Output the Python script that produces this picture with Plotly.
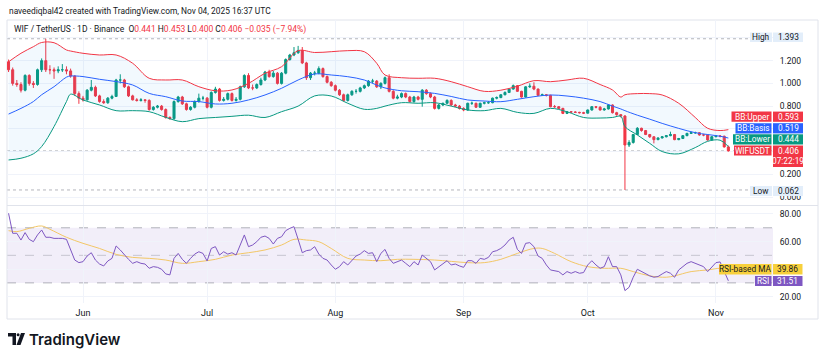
import pandas as pd
import plotly.graph_objects as go

W, H = 825, 361

# ---------------- data ----------------
DATES = pd.date_range("2025-05-14", "2025-11-04", freq="D")

OPEN = [1.19, 1.12, 1.00, 0.99, 0.94, 1.07, 1.00, 0.99, 1.12, 1.20, 1.12, 1.12, 1.11, 1.12, 1.12, 1.11, 1.065, 0.91,
        0.87, 0.855, 0.94, 0.965, 0.89, 0.84, 0.83, 0.87, 0.885, 1.03,
        1.03, 0.97, 0.89, 0.855, 0.85, 0.855, 0.85, 0.77, 0.79, 0.80,
        0.77, 0.70, 0.69, 0.84, 0.88, 0.82, 0.77, 0.79, 0.84, 0.87,
        0.87, 0.79, 0.92, 0.95, 0.85, 0.86, 0.91, 0.85, 0.86, 0.97,
        1.07, 0.96, 0.96, 0.99, 1.03, 1.10, 1.06, 1.09, 1.00, 1.09,
        1.21, 1.25, 1.27, 1.29, 1.18, 1.05, 1.09, 1.09, 1.13, 1.06,
        1.01, 0.98, 0.94, 0.90, 0.85, 0.90, 0.93, 0.93, 0.96, 0.98,
        1.02, 1.02, 0.97, 1.00, 1.05, 0.93, 0.87, 0.88, 0.91, 0.88,
        0.84, 0.88, 0.86, 0.94, 0.91, 0.88, 0.78, 0.81, 0.825, 0.85,
        0.81, 0.80, 0.78, 0.766, 0.825, 0.825, 0.79, 0.825, 0.83, 0.83,
        0.87, 0.875, 0.90, 0.92, 0.95, 0.98, 0.93, 0.88, 0.97, 0.975,
        0.95, 0.895, 0.90, 0.895, 0.795, 0.795, 0.78, 0.736, 0.75, 0.748,
        0.745, 0.742, 0.738, 0.766, 0.795, 0.79, 0.766, 0.775, 0.81, 0.742,
        0.725, 0.713, 0.458, 0.48, 0.55, 0.605, 0.585, 0.55, 0.53, 0.505,
        0.52, 0.53, 0.54, 0.55, 0.505, 0.515, 0.54, 0.56, 0.566, 0.566,
        0.546, 0.546, 0.502, 0.531, 0.537, 0.535, 0.441]

HIGH = [1.21, 1.14, 1.03, 1.01, 1.08, 1.08, 1.02, 1.13, 1.22, 1.393, 1.16, 1.14, 1.15, 1.17, 1.15, 1.13, 1.07, 0.93,
        0.89, 0.95, 1.03, 0.98, 0.90, 0.86, 0.88, 0.90, 1.04, 1.08,
        1.04, 0.98, 0.90, 0.87, 0.87, 0.86, 0.86, 0.80, 0.81, 0.81,
        0.78, 0.71, 0.85, 0.89, 0.89, 0.83, 0.80, 0.85, 0.91, 0.89,
        0.88, 0.93, 0.97, 0.96, 0.88, 0.92, 0.92, 0.88, 0.98, 1.08,
        1.09, 0.99, 1.00, 1.05, 1.11, 1.12, 1.11, 1.10, 1.10, 1.22,
        1.26, 1.32, 1.33, 1.32, 1.19, 1.10, 1.11, 1.15, 1.14, 1.07,
        1.02, 0.99, 0.95, 0.91, 0.91, 0.94, 0.95, 0.97, 0.99, 1.03,
        1.04, 1.03, 1.01, 1.06, 1.08, 0.94, 0.90, 0.92, 0.92, 0.89,
        0.89, 0.89, 0.95, 0.95, 0.92, 0.89, 0.82, 0.83, 0.86, 0.86,
        0.82, 0.81, 0.79, 0.83, 0.84, 0.83, 0.83, 0.84, 0.845, 0.875,
        0.885, 0.905, 0.93, 0.955, 0.99, 0.985, 0.935, 0.975, 1.00, 1.01,
        0.955, 0.91, 0.905, 0.90, 0.81, 0.80, 0.785, 0.755, 0.755, 0.755,
        0.75, 0.75, 0.77, 0.80, 0.80, 0.80, 0.785, 0.815, 0.815, 0.75,
        0.73, 0.72, 0.50, 0.555, 0.615, 0.61, 0.59, 0.555, 0.535, 0.525,
        0.535, 0.545, 0.575, 0.555, 0.52, 0.545, 0.565, 0.575, 0.575, 0.57,
        0.555, 0.55, 0.535, 0.545, 0.545, 0.54, 0.453]

LOW = [1.10, 0.98, 0.97, 0.92, 0.93, 0.98, 0.96, 0.98, 1.10, 1.10, 1.08, 1.04, 1.09, 1.10, 1.08, 1.05, 0.89, 0.82,
       0.84, 0.85, 0.93, 0.88, 0.83, 0.82, 0.82, 0.86, 0.88, 1.00,
       0.96, 0.88, 0.85, 0.84, 0.84, 0.83, 0.76, 0.76, 0.78, 0.76,
       0.69, 0.68, 0.68, 0.83, 0.81, 0.76, 0.76, 0.78, 0.83, 0.85,
       0.78, 0.78, 0.91, 0.84, 0.84, 0.85, 0.84, 0.84, 0.85, 0.96,
       0.95, 0.94, 0.95, 0.98, 1.02, 1.05, 1.05, 0.99, 0.99, 1.08,
       1.20, 1.24, 1.26, 1.17, 1.03, 1.03, 1.07, 1.08, 1.05, 1.00,
       0.97, 0.93, 0.89, 0.84, 0.84, 0.89, 0.91, 0.92, 0.95, 0.97,
       1.00, 0.96, 0.95, 0.99, 0.92, 0.86, 0.86, 0.87, 0.87, 0.83,
       0.83, 0.85, 0.795, 0.90, 0.87, 0.77, 0.77, 0.80, 0.82, 0.80,
       0.79, 0.77, 0.755, 0.76, 0.81, 0.785, 0.785, 0.815, 0.82, 0.825,
       0.86, 0.87, 0.895, 0.915, 0.945, 0.925, 0.875, 0.875, 0.96, 0.94,
       0.89, 0.89, 0.885, 0.79, 0.785, 0.775, 0.73, 0.73, 0.74, 0.74,
       0.735, 0.73, 0.735, 0.76, 0.78, 0.76, 0.76, 0.77, 0.735, 0.715,
       0.70, 0.062, 0.44, 0.47, 0.545, 0.575, 0.545, 0.52, 0.472, 0.50,
       0.515, 0.525, 0.535, 0.50, 0.50, 0.51, 0.535, 0.555, 0.555, 0.54,
       0.535, 0.495, 0.50, 0.525, 0.525, 0.435, 0.400]

CLOSE = [1.12, 1.00, 0.99, 0.94, 1.07, 1.00, 0.99, 1.12, 1.20, 1.12, 1.12, 1.11, 1.12, 1.12, 1.11, 1.065, 0.91, 0.87,
         0.855, 0.94, 0.965, 0.89, 0.84, 0.83, 0.87, 0.885, 1.03, 1.03,
         0.97, 0.89, 0.855, 0.85, 0.855, 0.85, 0.77, 0.79, 0.80, 0.77,
         0.70, 0.69, 0.84, 0.88, 0.82, 0.77, 0.79, 0.84, 0.87, 0.87,
         0.79, 0.92, 0.95, 0.85, 0.86, 0.91, 0.85, 0.86, 0.97, 1.07,
         0.96, 0.96, 0.99, 1.03, 1.10, 1.06, 1.09, 1.00, 1.09, 1.21,
         1.25, 1.27, 1.29, 1.18, 1.05, 1.09, 1.09, 1.13, 1.06, 1.01,
         0.98, 0.94, 0.90, 0.85, 0.90, 0.93, 0.93, 0.96, 0.98, 1.02,
         1.02, 0.97, 1.00, 1.05, 0.93, 0.87, 0.88, 0.91, 0.88, 0.84,
         0.88, 0.86, 0.94, 0.91, 0.88, 0.78, 0.81, 0.825, 0.85, 0.81,
         0.80, 0.78, 0.766, 0.825, 0.825, 0.79, 0.825, 0.83, 0.83, 0.87,
         0.875, 0.90, 0.92, 0.95, 0.98, 0.93, 0.88, 0.97, 0.975, 0.95,
         0.895, 0.90, 0.895, 0.795, 0.795, 0.78, 0.736, 0.75, 0.748, 0.745,
         0.742, 0.738, 0.766, 0.795, 0.79, 0.766, 0.775, 0.81, 0.742, 0.725,
         0.713, 0.458, 0.48, 0.55, 0.605, 0.585, 0.55, 0.53, 0.505, 0.52,
         0.53, 0.54, 0.55, 0.505, 0.515, 0.54, 0.56, 0.566, 0.566, 0.546,
         0.546, 0.502, 0.531, 0.537, 0.535, 0.441, 0.406]

RSI = [80.5, 66.0, 66.0, 61.1, 66.5, 61.6, 59.9, 64.8, 68.4, 63.1, 63.1, 62.3, 62.3, 62.3, 61.6, 53.9, 46.6, 44.7,
       45.4, 49.5, 51.9, 46.6, 43.7, 42.3, 45.9, 47.8, 56.8, 53.9,
       50.2, 47.1, 44.2, 45.4, 44.2, 43.7, 40.6, 41.8, 41.3, 39.9,
       36.5, 35.8, 47.8, 51.4, 47.1, 44.2, 47.8, 50.9, 52.6, 51.4,
       45.9, 55.0, 56.3, 50.2, 52.6, 50.9, 51.9, 50.2, 57.5, 64.8,
       56.3, 57.5, 59.9, 63.1, 64.0, 62.3, 58.2, 62.3, 63.5, 67.9,
       69.6, 70.8, 61.6, 51.9, 53.4, 53.9, 56.3, 50.9, 47.8, 46.6,
       43.0, 39.9, 41.8, 45.4, 43.0, 46.6, 49.5, 50.9, 53.4, 51.4,
       51.9, 45.4, 51.4, 54.3, 47.8, 44.2, 45.4, 46.6, 44.2, 41.8,
       45.4, 43.0, 50.2, 47.8, 45.4, 39.4, 41.8, 43.7, 46.1, 43.0,
       43.7, 42.3, 41.3, 46.1, 46.1, 44.2, 47.8, 47.1, 48.5, 52.6,
       53.4, 55.0, 57.5, 61.1, 63.1, 54.3, 51.4, 58.7, 59.2, 56.3,
       49.5, 47.8, 43.0, 39.4, 38.9, 38.2, 35.8, 38.2, 37.0, 38.2,
       37.0, 37.5, 43.0, 46.1, 43.0, 40.6, 41.8, 49.0, 41.8, 41.8,
       35.8, 24.4, 26.8, 34.1, 39.9, 38.2, 37.0, 35.1, 34.1, 34.6,
       36.5, 38.2, 37.0, 34.1, 39.4, 41.8, 44.2, 45.4, 44.2, 43.0,
       41.8, 38.2, 41.8, 44.7, 45.2, 38.0, 31.51]

BB_DATES = ["2025-05-14", "2025-05-17", "2025-05-20", "2025-05-22", "2025-05-25", "2025-05-28", "2025-05-29",
            "2025-06-01", "2025-06-05", "2025-06-09", "2025-06-13", "2025-06-17", "2025-06-21", "2025-06-25",
            "2025-06-29", "2025-07-03", "2025-07-07", "2025-07-11", "2025-07-15", "2025-07-19", "2025-07-23",
            "2025-07-27", "2025-07-31", "2025-08-04", "2025-08-08", "2025-08-11", "2025-08-13", "2025-08-17",
            "2025-08-21", "2025-08-25", "2025-08-29", "2025-09-02", "2025-09-06", "2025-09-10", "2025-09-14",
            "2025-09-18", "2025-09-22", "2025-09-26", "2025-09-30", "2025-10-04", "2025-10-07", "2025-10-09",
            "2025-10-10", "2025-10-13", "2025-10-16", "2025-10-19", "2025-10-23", "2025-10-27", "2025-10-30",
            "2025-11-02", "2025-11-04"]
BB_UPPER = [1.19, 1.265, 1.323, 1.36, 1.358, 1.294, 1.285, 1.265, 1.25, 1.25, 1.177, 1.045, 1.03, 1.03, 0.971,
            0.935, 0.942, 1.0, 1.089, 1.147, 1.288, 1.272, 1.279, 1.288, 1.279, 1.177, 1.074, 1.05, 1.045, 1.045,
            1.015, 0.971, 0.93, 0.94, 0.975, 1.024, 1.015, 1.03, 1.045, 0.99, 0.942, 0.88, 0.90, 0.91, 0.91,
            0.898, 0.825, 0.70, 0.605, 0.585, 0.593]
BB_BASIS = [0.73, 0.78, 0.84, 0.90, 0.971, 1.055, 1.065, 1.06, 1.036, 1.016, 0.986, 0.912, 0.883, 0.845, 0.84,
            0.819, 0.825, 0.854, 0.898, 0.957, 1.03, 1.083, 1.074, 1.059, 1.03, 0.985, 0.96, 0.935, 0.927, 0.912,
            0.885, 0.854, 0.845, 0.839, 0.86, 0.883, 0.898, 0.889, 0.87, 0.84, 0.80, 0.775, 0.76, 0.72, 0.685,
            0.648, 0.604, 0.566, 0.55, 0.535, 0.519]
BB_LOWER = [0.326, 0.341, 0.38, 0.444, 0.62, 0.84, 0.905, 0.854, 0.81, 0.76, 0.76, 0.751, 0.701, 0.663, 0.69,
            0.70, 0.71, 0.72, 0.70, 0.751, 0.80, 0.89, 0.889, 0.825, 0.772, 0.78, 0.80, 0.83, 0.825, 0.83,
            0.80, 0.766, 0.76, 0.78, 0.745, 0.736, 0.78, 0.75, 0.70, 0.695, 0.70, 0.71, 0.62, 0.546, 0.472,
            0.40, 0.38, 0.435, 0.49, 0.50, 0.444]

MA_DATES = ["2025-05-14", "2025-05-16", "2025-05-19", "2025-05-22", "2025-05-24", "2025-05-28", "2025-06-01",
            "2025-06-05", "2025-06-09", "2025-06-13", "2025-06-17", "2025-06-21", "2025-06-25", "2025-06-29",
            "2025-07-03", "2025-07-07", "2025-07-11", "2025-07-15", "2025-07-19", "2025-07-22", "2025-07-25",
            "2025-07-28", "2025-07-31", "2025-08-04", "2025-08-08", "2025-08-12", "2025-08-16", "2025-08-20",
            "2025-08-25", "2025-09-02", "2025-09-06", "2025-09-10", "2025-09-14", "2025-09-18", "2025-09-20",
            "2025-09-23", "2025-09-27", "2025-10-01", "2025-10-05", "2025-10-09", "2025-10-12", "2025-10-16",
            "2025-10-20", "2025-10-22", "2025-10-26", "2025-10-30", "2025-11-02", "2025-11-04"]
RSI_MA = [67.9, 67.2, 69.6, 71.3, 68.9, 63.1, 58.7, 55.0, 50.7, 48.5, 47.8, 46.6, 44.2, 45.4, 47.1, 50.2,
          51.9, 53.9, 57.5, 61.6, 61.1, 59.9, 55.0, 47.8, 46.6, 46.1, 47.1, 47.1, 46.6, 44.7, 44.7, 47.1,
          51.4, 55.0, 55.0, 51.4, 45.4, 41.8, 40.6, 40.6, 38.2, 35.1, 34.1, 35.1, 38.2, 39.4, 40.6, 39.86]

VISIBLE_HIGH = 1.393
VISIBLE_LOW = 0.062
MONTHS = ["2025-06-01", "2025-07-01", "2025-08-01", "2025-09-01", "2025-10-01", "2025-11-01"]
PRICE_TICKS = [0.0, 0.2, 0.4, 0.6, 0.8, 1.0, 1.2, 1.4]
PRICE_TICK_TEXT = ["0.000", "0.200", "", "", "0.800", "1.000", "1.200", ""]
RSI_TICKS = [20, 40, 60, 80]
RSI_TICK_TEXT = ["20.00", "", "60.00", "80.00"]
COUNTDOWN = "07:22:19"

# ---------------- styling ----------------
UP, DOWN = "#089981", "#F23645"
BLUE = "#2962FF"
PURPLE = "#7E57C2"
YELLOW = "#F7D03C"
MA_LINE = "#F3C766"
TXT = "#131722"
GRID = "#F0F3FA"
FONT = "Roboto, Arial, sans-serif"


def px(x):
    return x / W


def py(y):
    return 1 - y / H


PLOT_L, PLOT_R = 7, 773
X_RANGE = ["2025-05-13 15:00", "2025-11-14 19:00"]

fig = go.Figure()

# Bollinger band fill + lines
fig.add_trace(go.Scatter(x=BB_DATES, y=BB_LOWER, mode="lines", line=dict(color=UP, width=1, shape="spline"),
                         xaxis="x", yaxis="y", hoverinfo="skip"))
fig.add_trace(go.Scatter(x=BB_DATES, y=BB_UPPER, mode="lines", line=dict(color=DOWN, width=1, shape="spline"),
                         fill="tonexty", fillcolor="rgba(33,150,243,0.06)", xaxis="x", yaxis="y", hoverinfo="skip"))
fig.add_trace(go.Scatter(x=BB_DATES, y=BB_BASIS, mode="lines", line=dict(color=BLUE, width=1, shape="spline"),
                         xaxis="x", yaxis="y", hoverinfo="skip"))

fig.add_trace(go.Candlestick(
    x=DATES, open=OPEN, high=HIGH, low=LOW, close=CLOSE,
    increasing=dict(line=dict(color=UP, width=1), fillcolor=UP),
    decreasing=dict(line=dict(color=DOWN, width=1), fillcolor=DOWN),
    whiskerwidth=0, xaxis="x", yaxis="y"))

# RSI pane
fig.add_trace(go.Scatter(x=MA_DATES, y=RSI_MA, mode="lines", line=dict(color=MA_LINE, width=1, shape="spline"),
                         xaxis="x2", yaxis="y2", hoverinfo="skip"))
fig.add_trace(go.Scatter(x=DATES, y=RSI, mode="lines", line=dict(color=PURPLE, width=1),
                         xaxis="x2", yaxis="y2", hoverinfo="skip"))

shapes = []
# RSI band and levels
shapes.append(dict(type="rect", xref="x2 domain", yref="y2", x0=0, x1=1, y0=30, y1=70,
                   fillcolor="rgba(126,87,194,0.10)", line=dict(width=0), layer="below"))
for lvl, op in [(70, 0.55), (50, 0.35), (30, 0.55)]:
    shapes.append(dict(type="line", xref="x2 domain", yref="y2", x0=0, x1=1, y0=lvl, y1=lvl,
                       line=dict(color="#787B86", width=1, dash="dash"), opacity=op, layer="below"))
# high / low / last price lines
for lvl in (VISIBLE_HIGH, VISIBLE_LOW):
    shapes.append(dict(type="line", xref="x domain", yref="y", x0=0, x1=1, y0=lvl, y1=lvl,
                       line=dict(color="#9598A1", width=1, dash="dot"), opacity=0.7, layer="below"))
shapes.append(dict(type="line", xref="x domain", yref="y", x0=0, x1=1, y0=CLOSE[-1], y1=CLOSE[-1],
                   line=dict(color="#9598A1", width=1, dash="dot"), opacity=0.7, layer="below"))
# frame and pane separator
shapes.append(dict(type="rect", xref="paper", yref="paper", x0=px(7), x1=px(818), y0=py(319), y1=py(20),
                   line=dict(color="#E0E3EB", width=1), layer="below"))
shapes.append(dict(type="line", xref="paper", yref="paper", x0=px(7), x1=px(818), y0=py(205.5), y1=py(205.5),
                   line=dict(color="#E0E3EB", width=1), layer="below"))

annotations = []


def box(x0, x1, y0, y1, color):
    shapes.append(dict(type="rect", xref="paper", yref="paper", x0=px(x0), x1=px(x1), y0=py(y1), y1=py(y0),
                       fillcolor=color, line=dict(width=0), layer="above"))


def text(x, y, s, color=TXT, size=8.5, anchor="center"):
    annotations.append(dict(xref="paper", yref="paper", x=px(x), y=py(y), text=s, showarrow=False,
                            xanchor=anchor, yanchor="middle", font=dict(family=FONT, size=size, color=color)))


LS = 8.3
LIGHT = "#E3EEFA"
# High
box(750, 772, 32.5, 42, LIGHT); box(773, 803, 32.5, 42, LIGHT)
text(761, 37.3, "High", size=LS); text(788, 37.3, f"{VISIBLE_HIGH:.3f}", size=LS)
# Low
box(750, 772, 186, 196, LIGHT); box(773, 803, 186, 196, LIGHT)
text(761, 191, "Low", size=LS); text(788, 191, f"{VISIBLE_LOW:.3f}", size=LS)
# BB labels
for (lbl, val, col, x0, yc) in [("BB:Upper", BB_UPPER[-1], DOWN, 731.5, 116.7),
                                 ("BB:Basis", BB_BASIS[-1], BLUE, 735.5, 128.3),
                                 ("BB:Lower", BB_LOWER[-1], UP, 733, 139.4)]:
    box(x0, 771.5, yc - 5.1, yc + 5.1, col)
    box(773, 803, yc - 5.1, yc + 5.1, col)
    text((x0 + 771.5) / 2, yc, lbl, "white", LS)
    text(788, yc, f"{val:.3f}", "white", LS)
box(734, 771.5, 145.5, 155.5, DOWN)
box(773, 803, 145.5, 167, DOWN)
text(752.7, 150.5, "WIFUSDT", "white", LS)
text(788, 150.7, f"{CLOSE[-1]:.3f}", "white", LS)
text(788, 161.4, COUNTDOWN, "white", LS)
# RSI labels
box(719, 771.5, 264, 274.5, YELLOW); box(773, 802.5, 264, 274.5, YELLOW)
text(745.2, 269.3, "RSI-based MA", size=LS); text(787.7, 269.3, f"{RSI_MA[-1]:.2f}", size=LS)
box(755, 771.5, 276, 286, PURPLE); box(773, 802.5, 276, 286, PURPLE)
text(763.2, 281, "RSI", "white", LS); text(787.7, 281, f"{RSI[-1]:.2f}", "white", LS)

# header texts
text(7, 11, "naveediqbal42 created with TradingView.com, Nov 04, 2025 16:37 UTC", TXT, 8.4, "left")
chg = CLOSE[-1] - OPEN[-1]
pct = chg / OPEN[-1] * 100
red = lambda s: f"<span style='color:{DOWN}'>{s}</span>"
legend = ("WIF / TetherUS · 1D · Binance  "
          f"O{red(f'{OPEN[-1]:.3f}')} H{red(f'{HIGH[-1]:.3f}')} L{red(f'{LOW[-1]:.3f}')} "
          f"C{red(f'{CLOSE[-1]:.3f}')} {red(f'−{abs(chg):.3f} (−{abs(pct):.2f}%)')}")
text(12, 29, legend, TXT, 8.5, "left")

# TradingView logo
shapes.append(dict(type="path", xref="paper", yref="paper",
                   path=f"M {px(8)} {py(333)} L {px(16)} {py(333)} L {px(16)} {py(345)} L {px(12.5)} {py(345)} "
                        f"L {px(12.5)} {py(336.5)} L {px(8)} {py(336.5)} Z",
                   fillcolor=TXT, line=dict(width=0), layer="above"))
shapes.append(dict(type="circle", xref="paper", yref="paper", x0=px(16.6), x1=px(19.6), y0=py(336.3), y1=py(333.3),
                   fillcolor=TXT, line=dict(width=0), layer="above"))
shapes.append(dict(type="path", xref="paper", yref="paper",
                   path=f"M {px(21)} {py(333)} L {px(25)} {py(333)} L {px(20.5)} {py(345)} L {px(16.5)} {py(345)} Z",
                   fillcolor=TXT, line=dict(width=0), layer="above"))
annotations.append(dict(xref="paper", yref="paper", x=px(27), y=py(339), text="TradingView", showarrow=False,
                        xanchor="left", yanchor="middle",
                        font=dict(family="Inter, Roboto, sans-serif", size=15, color=TXT, weight=600)))

x_dom = [px(PLOT_L), px(PLOT_R)]
common_x = dict(type="date", range=X_RANGE, domain=x_dom, tickvals=MONTHS, showgrid=True, gridcolor=GRID,
                gridwidth=1, zeroline=False, showline=False, fixedrange=True)

fig.update_layout(
    width=W, height=H, margin=dict(l=0, r=0, t=0, b=0),
    paper_bgcolor="white", plot_bgcolor="white", showlegend=False,
    font=dict(family=FONT, size=9, color=TXT),
    xaxis=dict(**common_x, anchor="y", showticklabels=False, rangeslider=dict(visible=False)),
    xaxis2=dict(**common_x, anchor="y2", matches="x", showticklabels=True, tickformat="%b",
                ticks="outside", ticklen=1, tickcolor="rgba(0,0,0,0)", tickfont=dict(size=9, color=TXT)),
    yaxis=dict(domain=[py(205), py(20)], range=[-0.0704, 1.558], side="right", anchor="x",
               tickvals=PRICE_TICKS, ticktext=PRICE_TICK_TEXT, showgrid=True, gridcolor=GRID, zeroline=False,
               ticks="outside", ticklen=4, tickcolor="rgba(0,0,0,0)", tickfont=dict(size=8.5, color=TXT),
               fixedrange=True),
    yaxis2=dict(domain=[py(303), py(206)], range=[15.41, 85.8], side="right", anchor="x2",
                tickvals=RSI_TICKS, ticktext=RSI_TICK_TEXT, showgrid=True, gridcolor=GRID, zeroline=False,
                ticks="outside", ticklen=4, tickcolor="rgba(0,0,0,0)", tickfont=dict(size=8.5, color=TXT),
                fixedrange=True),
    shapes=shapes, annotations=annotations,
)

fig.write_html("out.html", config={"displayModeBar": False, "staticPlot": True},
               post_script="document.body.style.margin='0';document.body.style.overflow='hidden';")
